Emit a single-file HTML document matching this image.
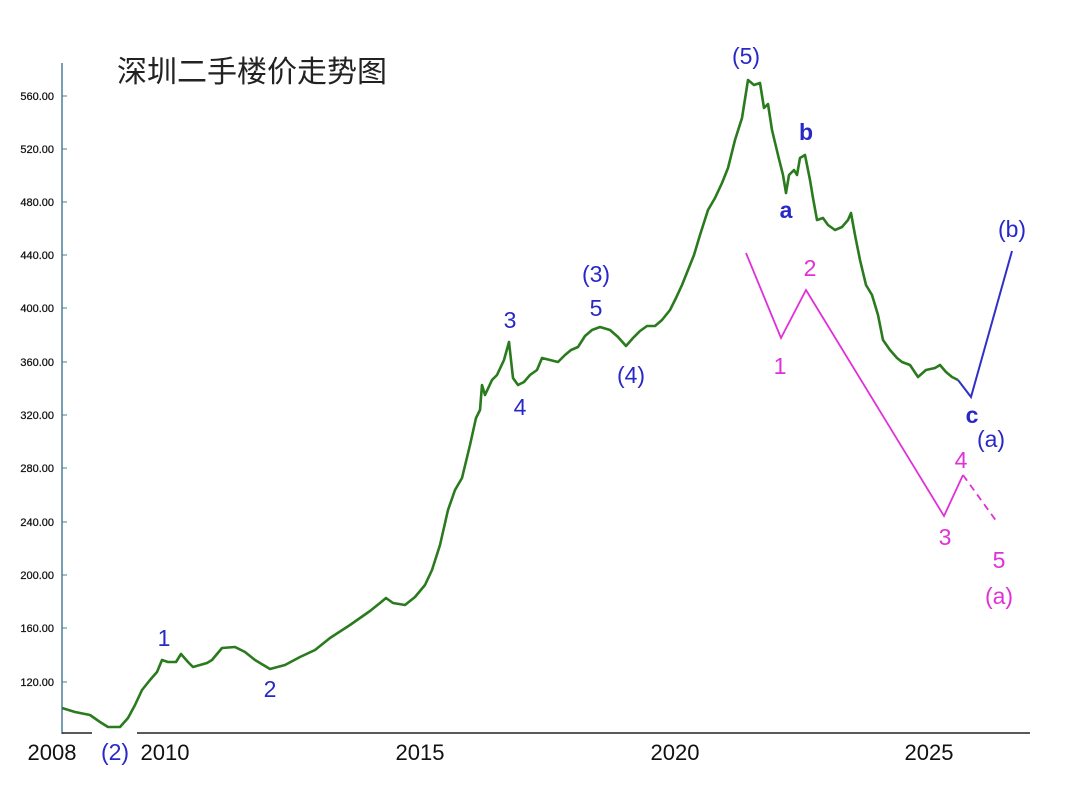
<!DOCTYPE html>
<html><head><meta charset="utf-8"><style>
html,body{margin:0;padding:0;background:#fff;}
svg text{font-family:"Liberation Sans","Noto Sans CJK SC",sans-serif;}
</style></head><body>
<svg width="1080" height="785" viewBox="0 0 1080 785" xmlns="http://www.w3.org/2000/svg">
<rect width="1080" height="785" fill="#fff"/>
<text x="117" y="82" font-size="30" fill="#222">深圳二手楼价走势图</text>
<line x1="62" y1="63" x2="62" y2="734" stroke="#4a7f9a" stroke-width="1.5"/>
<g stroke="#4a7f9a" stroke-width="1">
<line x1="62" y1="96" x2="67" y2="96"/><line x1="62" y1="149" x2="67" y2="149"/><line x1="62" y1="202" x2="67" y2="202"/><line x1="62" y1="255" x2="67" y2="255"/><line x1="62" y1="308" x2="67" y2="308"/><line x1="62" y1="362" x2="67" y2="362"/><line x1="62" y1="415" x2="67" y2="415"/><line x1="62" y1="468" x2="67" y2="468"/><line x1="62" y1="522" x2="67" y2="522"/><line x1="62" y1="575" x2="67" y2="575"/><line x1="62" y1="628" x2="67" y2="628"/><line x1="62" y1="682" x2="67" y2="682"/>
</g>
<g font-size="11" fill="#111" text-anchor="end" stroke="#111" stroke-width="0.25">
<text x="54" y="100">560.00</text><text x="54" y="153">520.00</text><text x="54" y="206">480.00</text><text x="54" y="259">440.00</text><text x="54" y="312">400.00</text><text x="54" y="366">360.00</text><text x="54" y="419">320.00</text><text x="54" y="472">280.00</text><text x="54" y="526">240.00</text><text x="54" y="579">200.00</text><text x="54" y="632">160.00</text><text x="54" y="686">120.00</text>
</g>
<line x1="62" y1="733" x2="92" y2="733" stroke="#222" stroke-width="1.5"/>
<line x1="137" y1="733" x2="1030" y2="733" stroke="#222" stroke-width="1.5"/>
<g font-size="22" fill="#111" text-anchor="middle">
<text x="52" y="760">2008</text><text x="165" y="760">2010</text><text x="420" y="760">2015</text><text x="675" y="760">2020</text><text x="929" y="760">2025</text>
</g>
<polyline fill="none" stroke="#2a7a1e" stroke-width="2.6" stroke-linejoin="round" points="62,708 75,712 90,715 100,722 108,727 120,727 128,718 135,705 142,690 150,680 157,672 162,660 168,662 176,662 181,654 188,662 193,667 200,665 207,663 212,660 222,648 235,647 245,652 255,660 270,669 285,665 300,657 315,650 330,638 350,625 370,611 380,603 386,598 393,603 405,605 415,597 425,585 432,570 440,545 448,510 455,490 462,478 470,445 476,418 480,410 482,385 485,395 492,380 497,375 504,360 509,342 513,378 518,385 524,382 530,375 537,370 542,358 550,360 558,362 565,355 571,350 578,347 585,336 592,330 600,327 610,330 618,337 626,346 633,338 640,331 647,326 655,326 662,320 670,310 676,298 682,285 688,270 694,255 700,235 708,210 715,198 722,183 728,168 735,140 742,118 748,80 754,85 760,83 764,108 768,104 772,130 778,155 783,175 786,193 789,175 794,170 797,175 800,158 805,155 810,180 813,198 817,220 823,218 828,225 835,230 842,227 848,220 851,213 855,235 860,260 866,285 872,295 878,315 883,340 890,350 897,358 902,362 910,365 918,377 926,370 935,368 940,365 946,372 952,377 958,380"/>
<polyline fill="none" stroke="#3030c8" stroke-width="2" points="958,380 971,397 1012,251"/>
<polyline fill="none" stroke="#e030d8" stroke-width="1.8" points="746,253 781,338 806,290 944,516 963,475"/>
<line x1="963" y1="475" x2="997" y2="522" stroke="#e030d8" stroke-width="1.8" stroke-dasharray="7,5"/>
<g font-size="23" fill="#2828c8" text-anchor="middle">
<text x="115" y="760">(2)</text>
<text x="164" y="646">1</text>
<text x="270" y="697">2</text>
<text x="510" y="328">3</text>
<text x="520" y="415">4</text>
<text x="596" y="316">5</text>
<text x="596" y="282">(3)</text>
<text x="631" y="383">(4)</text>
<text x="746" y="64">(5)</text>
<text x="786" y="218" font-weight="bold">a</text>
<text x="806" y="140" font-weight="bold">b</text>
<text x="972" y="423" font-weight="bold">c</text>
<text x="991" y="447">(a)</text>
<text x="1012" y="237">(b)</text>
</g>
<g font-size="23" fill="#e030d8" text-anchor="middle">
<text x="780" y="374">1</text>
<text x="810" y="276">2</text>
<text x="945" y="545">3</text>
<text x="961" y="468">4</text>
<text x="999" y="568">5</text>
<text x="999" y="604">(a)</text>
</g>
</svg>
</body></html>
